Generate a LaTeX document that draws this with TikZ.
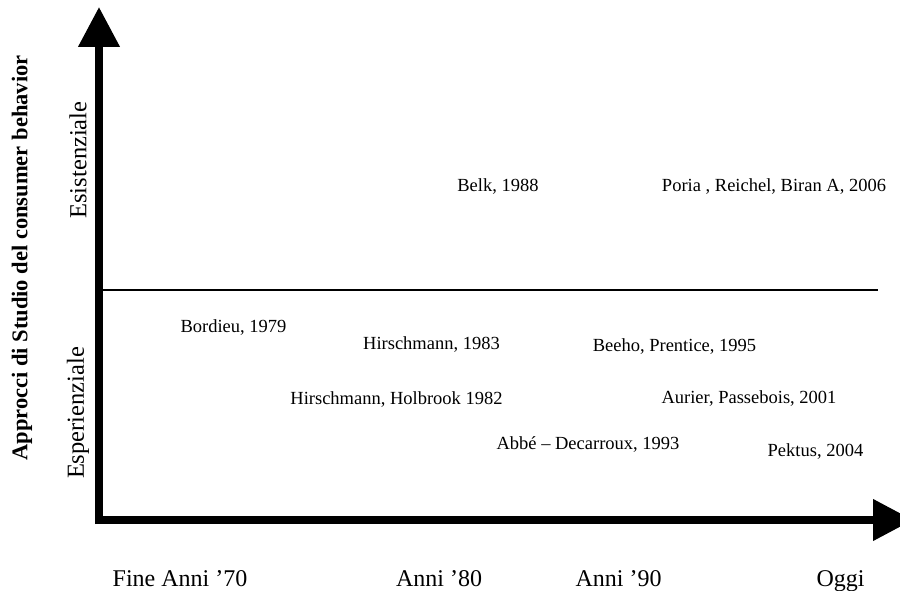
\documentclass[tikz,border=0pt]{standalone}
\usepackage{fontspec}
\setmainfont{Liberation Serif}
\usepackage{tikz}
\usetikzlibrary{arrows.meta,positioning}

\begin{document}
\begin{tikzpicture}[
  x=1pt, y=-1pt,
  axis/.style={line width=7.5pt, -{Triangle[length=40pt, width=40pt]}},
  divider/.style={line width=1.5pt},
  cite/.style={inner sep=0pt, anchor=base, font=\fontsize{18.5}{22}\selectfont},
  period/.style={inner sep=0pt, anchor=base, font=\fontsize{24}{28}\selectfont},
  approach/.style={inner sep=0pt, rotate=90, font=\fontsize{24.5}{28}\selectfont},
  title/.style={inner sep=0pt, rotate=90, font=\fontsize{22.5}{26}\selectfont\bfseries}
]
\useasboundingbox (0,0) rectangle (900,591);
\clip (0,0) rectangle (900,591);

% axes
\coordinate (origin) at (99,520);
\coordinate (ytip) at (99,7);
\coordinate (xtip) at (913,520);
\draw[axis] ([yshift=-4pt]origin) -- (ytip);
\draw[axis] ([xshift=-4pt]origin) -- (xtip);

% divisione tra i due approcci
\coordinate (divL) at (101,290);
\coordinate (divR) at (878,290);
\draw[divider] (divL) -- (divR);

% asse verticale
\node[title] (ttl) at (22,258) {Approcci di Studio del consumer behavior};
\node[approach] (esist) at (78,160) {Esistenziale};
\node[approach] (esper) at (78,413) {Esperienziale};

% asse orizzontale
\node[period] (p70) at (180,586) {Fine Anni ’70};
\node[period] (p80) at (439,586) {Anni ’80};
\node[period] (p90) at (618.5,586) {Anni ’90};
\node[period] (oggi) at (840.5,586) {Oggi};

% autori
\node[cite] (belk) at (498,191) {Belk, 1988};
\node[cite] (poria) at (774,191) {Poria , Reichel, Biran A, 2006};
\node[cite] (bordieu) at (233.5,332) {Bordieu, 1979};
\node[cite] (hirsch) at (431.5,349) {Hirschmann, 1983};
\node[cite] (beeho) at (674.5,351) {Beeho, Prentice, 1995};
\node[cite] (holbrook) at (396.5,404) {Hirschmann, Holbrook 1982};
\node[cite] (aurier) at (749,403) {Aurier, Passebois, 2001};
\node[cite] (abbe) at (588,449) {Abbé – Decarroux, 1993};
\node[cite] (pektus) at (815.5,456) {Pektus, 2004};
\end{tikzpicture}
\end{document}
